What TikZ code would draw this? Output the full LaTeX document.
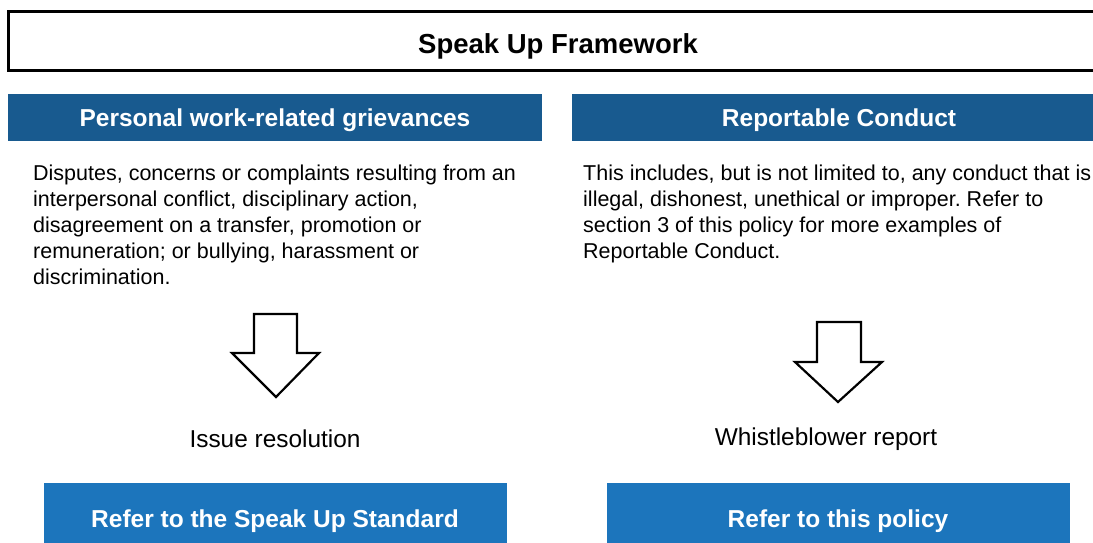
\documentclass[tikz,border=0pt]{standalone}
\usepackage{fontspec}
\setmainfont{Liberation Sans}
\frenchspacing
\definecolor{hdrblue}{RGB}{24,90,143}
\definecolor{refblue}{RGB}{28,117,188}
\begin{document}
\begin{tikzpicture}[x=1pt,y=-1pt,
  hdr/.style={text=white,font=\fontsize{24.5}{29}\selectfont\bfseries,inner sep=0pt},
  ref/.style={text=white,font=\fontsize{24.5}{29}\selectfont\bfseries,inner sep=0pt},
  body/.style={font=\fontsize{21.5}{26}\selectfont\frenchspacing,align=left,inner sep=0pt,anchor=north west},
  lbl/.style={font=\fontsize{24.4}{29}\selectfont,inner sep=0pt},
  blockarrow/.style={draw=black,line width=2.2pt,fill=white,line join=miter}]
\useasboundingbox (0,0) rectangle (1093,543);
\clip (0,0) rectangle (1093,543);
% title
\draw[line width=3pt] (8,12) rectangle (1110,71);
\node[font=\fontsize{27.5}{32}\selectfont\bfseries,inner sep=0pt] (title) at (558,46) {Speak Up Framework};
% headers
\fill[hdrblue] (8,94) rectangle (542,141);
\node[hdr] (hdrL) at (275,120) {Personal work-related grievances};
\fill[hdrblue] (572,94) rectangle (1110,141);
\node[hdr] (hdrR) at (839,120) {Reportable Conduct};
% bodies
\node[body] (bodyL) at (33,165) {Disputes, concerns or complaints resulting from an\\interpersonal conflict, disciplinary action,\\disagreement on a transfer, promotion or\\remuneration; or bullying, harassment or\\discrimination.};
\node[body] (bodyR) at (583,165) {This includes, but is not limited to, any conduct that is\\illegal, dishonest, unethical or improper. Refer to\\section 3 of this policy for more examples of\\Reportable Conduct.};
% arrows
\draw[blockarrow] (254,314) -- (297,314) -- (297,353) -- (319,353) -- (276,397) -- (232,353) -- (254,353) -- cycle;
\draw[blockarrow] (817,322) -- (861,322) -- (861,362) -- (882,362) -- (838,402) -- (795,362) -- (817,362) -- cycle;
% labels
\node[lbl] (resL) at (275,439) {Issue resolution};
\node[lbl] (resR) at (826,439) {Whistleblower report};
% bottom boxes
\fill[refblue] (44,483) rectangle (507,560);
\node[ref] (refL) at (275,521) {Refer to the Speak Up Standard};
\fill[refblue] (607,483) rectangle (1070,560);
\node[ref] (refR) at (838,521) {Refer to this policy};
\end{tikzpicture}
\end{document}
